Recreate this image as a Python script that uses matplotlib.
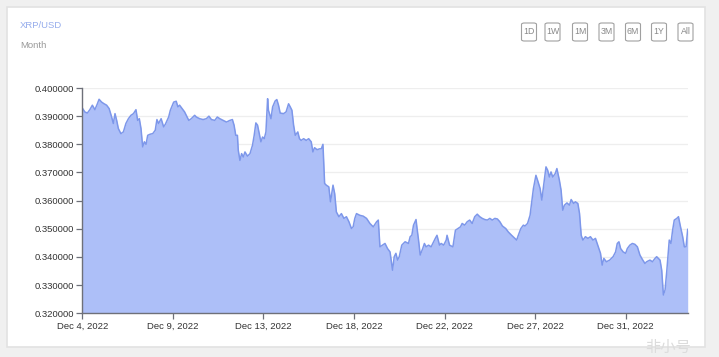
import matplotlib
matplotlib.use('Agg')
import matplotlib.pyplot as plt
from matplotlib.patches import Rectangle, FancyBboxPatch
from matplotlib.ticker import FuncFormatter

# hours since Dec 4 (category-style axis, 108 h between labels)
hours = [0, 3, 6, 9, 12, 15, 18, 20, 23, 26, 29, 32, 35, 37, 39, 41, 43, 46, 49, 52,
         55, 58, 61, 64, 66, 68, 70, 72, 74, 76, 78, 81, 84, 87, 89, 91, 94, 97, 99, 103,
         105, 107, 109, 112, 114, 116, 119, 122, 124, 127, 130, 134, 136, 140, 144, 148, 151, 154, 158, 161,
         164, 168, 172, 176, 179, 181, 183, 185, 186, 188, 190, 192, 194, 197, 200, 203, 205, 207, 209, 211,
         213, 215, 217, 219, 221, 222, 225, 227, 230, 232, 234, 236, 240, 243, 246, 248, 250, 252, 254, 257,
         259, 261, 264, 267, 270, 273, 275, 277, 280, 283, 285, 287, 289, 291, 294, 296, 299, 301, 303, 306,
         309, 312, 315, 318, 321, 323, 325, 327, 331, 335, 339, 343, 347, 351, 353, 355, 358, 361, 364, 367,
         370, 372, 374, 376, 378, 381, 383, 385, 389, 391, 393, 395, 398, 399, 401, 403, 406, 408, 410, 413,
         416, 418, 421, 423, 426, 428, 431, 434, 435, 438, 442, 445, 448, 451, 453, 456, 459, 462, 465, 468,
         471, 474, 477, 480, 483, 486, 489, 492, 495, 498, 501, 505, 508, 512, 516, 518, 520, 523, 526, 528,
         531, 534, 536, 538, 541, 543, 546, 548, 550, 553, 555, 557, 559, 561, 564, 566, 569, 571, 573, 575,
         578, 581, 583, 586, 588, 591, 593, 595, 597, 600, 603, 606, 609, 612, 614, 616, 618, 620, 622, 625,
         629, 633, 636, 638, 640, 642, 645, 648, 650, 653, 656, 659, 662, 665, 668, 671, 673, 677, 680, 683,
         685, 689, 691, 693, 695, 697, 699, 700, 702, 704, 706, 709, 711, 713, 716, 718, 720, 722]

price = [0.3929, 0.3915, 0.3911, 0.3923, 0.3939, 0.3923, 0.3944, 0.3960, 0.3950, 0.3944,
         0.3939, 0.3927, 0.3897, 0.3874, 0.3909, 0.3885, 0.3856, 0.3838, 0.3844, 0.3874,
         0.3891, 0.3903, 0.3909, 0.3923, 0.3885, 0.3891, 0.3856, 0.3791, 0.3809, 0.3800,
         0.3832, 0.3836, 0.3838, 0.3850, 0.3888, 0.3874, 0.3891, 0.3862, 0.3871, 0.3897,
         0.3921, 0.3935, 0.3950, 0.3953, 0.3933, 0.3939, 0.3927, 0.3915, 0.3903, 0.3885,
         0.3891, 0.3903, 0.3897, 0.3891, 0.3888, 0.3891, 0.3900, 0.3888, 0.3885, 0.3897,
         0.3891, 0.3885, 0.3879, 0.3885, 0.3888, 0.3868, 0.3832, 0.3832, 0.3779, 0.3743,
         0.3767, 0.3755, 0.3773, 0.3758, 0.3767, 0.3797, 0.3832, 0.3876, 0.3868, 0.3838,
         0.3809, 0.3826, 0.3820, 0.3844, 0.3962, 0.3921, 0.3891, 0.3933, 0.3954, 0.3959,
         0.3939, 0.3911, 0.3909, 0.3915, 0.3944, 0.3933, 0.3921, 0.3868, 0.3832, 0.3844,
         0.3820, 0.3814, 0.3820, 0.3814, 0.3820, 0.3809, 0.3773, 0.3788, 0.3781, 0.3784,
         0.3784, 0.3800, 0.3661, 0.3655, 0.3649, 0.3596, 0.3655, 0.3625, 0.3560, 0.3543,
         0.3554, 0.3537, 0.3543, 0.3525, 0.3501, 0.3507, 0.3537, 0.3554, 0.3548, 0.3545,
         0.3537, 0.3519, 0.3507, 0.3525, 0.3531, 0.3436, 0.3442, 0.3448, 0.3430, 0.3418,
         0.3353, 0.3401, 0.3413, 0.3389, 0.3401, 0.3442, 0.3448, 0.3454, 0.3448, 0.3472,
         0.3477, 0.3513, 0.3533, 0.3507, 0.3460, 0.3407, 0.3430, 0.3448, 0.3436, 0.3442,
         0.3436, 0.3448, 0.3466, 0.3477, 0.3442, 0.3448, 0.3442, 0.3460, 0.3477, 0.3442,
         0.3436, 0.3495, 0.3501, 0.3507, 0.3519, 0.3513, 0.3525, 0.3531, 0.3519, 0.3543,
         0.3552, 0.3543, 0.3537, 0.3533, 0.3531, 0.3537, 0.3531, 0.3537, 0.3535, 0.3525,
         0.3510, 0.3501, 0.3489, 0.3477, 0.3466, 0.3460, 0.3477, 0.3501, 0.3513, 0.3510,
         0.3519, 0.3548, 0.3596, 0.3643, 0.3690, 0.3672, 0.3643, 0.3602, 0.3649, 0.3720,
         0.3708, 0.3684, 0.3702, 0.3684, 0.3696, 0.3714, 0.3672, 0.3637, 0.3566, 0.3584,
         0.3592, 0.3584, 0.3604, 0.3590, 0.3596, 0.3590, 0.3554, 0.3477, 0.3460, 0.3472,
         0.3466, 0.3472, 0.3460, 0.3466, 0.3448, 0.3430, 0.3413, 0.3371, 0.3395, 0.3383,
         0.3389, 0.3401, 0.3418, 0.3448, 0.3454, 0.3430, 0.3418, 0.3413, 0.3430, 0.3442,
         0.3448, 0.3445, 0.3436, 0.3407, 0.3391, 0.3377, 0.3383, 0.3389, 0.3383, 0.3395,
         0.3401, 0.3389, 0.3353, 0.3265, 0.3283, 0.3348, 0.3424, 0.3460, 0.3448, 0.3495,
         0.3531, 0.3537, 0.3543, 0.3513, 0.3472, 0.3436, 0.3436, 0.3498]

tick_labels = ['Dec 4, 2022', 'Dec 9, 2022', 'Dec 13, 2022', 'Dec 18, 2022',
               'Dec 22, 2022', 'Dec 27, 2022', 'Dec 31, 2022']
label_step = 108
buttons = ['1D', '1W', '1M', '3M', '6M', '1Y', 'All']

plt.rcParams['font.family'] = ['Liberation Sans', 'DejaVu Sans']

W, H = 719, 357
fig = plt.figure(figsize=(W / 100, H / 100), dpi=100, facecolor='#f0f0f0')

# white card behind everything
fig.patches.append(Rectangle((7 / W, 10 / H), 698 / W, 340 / H, transform=fig.transFigure,
                             facecolor='white', edgecolor='#e2e2e2', linewidth=1.2, zorder=-5))

fig.text(20 / W, 1 - 26 / H, 'XRP/USD', color='#95acec', fontsize=6.8, va='center')
fig.text(20 / W, 1 - 46 / H, 'Month', color='#999999', fontsize=6.8, va='center')

bx = [529, 552.5, 580, 606.5, 633, 659, 685.5]
for cx, lab in zip(bx, buttons):
    fig.patches.append(FancyBboxPatch(((cx - 7.5) / W, 1 - 41 / H), 15 / W, 18 / H,
                                      boxstyle='round,pad=0,rounding_size=0.004',
                                      transform=fig.transFigure, facecolor='white',
                                      edgecolor='#a0a0a0', linewidth=0.8))
    fig.text(cx / W, 1 - 32 / H, lab, color='#888888', fontsize=6.3, ha='center', va='center')

ax = fig.add_axes([82.3 / W, 43.7 / H, 605.4 / W, 225.3 / H])
ax.set_zorder(5)
ax.patch.set_alpha(0)
ax.fill_between(hours, price, 0.32, color='#adbff8', linewidth=0, zorder=2)
ax.plot(hours, price, color='#7d97ea', linewidth=1.1, zorder=3)

ax.set_xlim(0, hours[-1])
ax.set_ylim(0.32, 0.40)
ax.set_yticks([0.32 + 0.01 * i for i in range(9)])
ax.yaxis.set_major_formatter(FuncFormatter(lambda v, p: f'{v:.6f}'))
ax.set_xticks([i * label_step for i in range(len(tick_labels))])
ax.set_xticklabels(tick_labels)
ax.grid(axis='y', color='#eeeeee', linewidth=0.9, zorder=0)
ax.set_axisbelow(True)

for s in ['top', 'right']:
    ax.spines[s].set_visible(False)
for s in ['left', 'bottom']:
    ax.spines[s].set_color('#6e7079')
    ax.spines[s].set_linewidth(1.0)
    ax.spines[s].set_zorder(4)
ax.tick_params(axis='both', colors='#6e7079', labelcolor='#333333', labelsize=6.8,
               length=4, width=0.9, pad=2)

fig.text(668 / W, 1 - 347 / H, '非小号', color='#dcdcdc', fontsize=11, ha='center', va='center',
         family=['Noto Sans CJK SC', 'DejaVu Sans'], zorder=6)

plt.savefig('out.png', dpi=100, facecolor=fig.get_facecolor())
